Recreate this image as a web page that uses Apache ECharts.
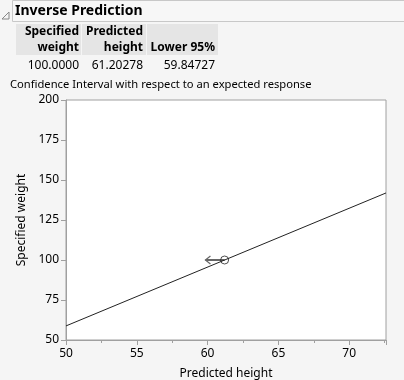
<!DOCTYPE html>
<html><head><meta charset="utf-8">
<script src="https://cdn.jsdelivr.net/npm/echarts@6/dist/echarts.min.js"></script>
<style>html,body{margin:0;padding:0;background:#f5f5f5}#c{width:404px;height:380px}</style>
</head><body><div id="c"></div>
<script>
// data
const title = 'Inverse Prediction';
const tableHeaders = [['Specified','weight'],['Predicted','height'],['','Lower 95%']];
const tableValues = ['100.0000','61.20278','59.84727'];
const subtitle = 'Confidence Interval with respect to an expected response';
const fitLine = [[50, 58.8], [72.6, 141.9]];
const predPoint = [61.20278, 100];
const lowerBound = [59.84727, 100];
const xTicks = [50, 55, 60, 65, 70];
const yTicks = [50, 75, 100, 125, 150, 175, 200];

const FONT = 'Noto Sans';
const chart = echarts.init(document.getElementById('c'), null, {renderer:'canvas'});

const graphics = [];
// title bar
graphics.push({type:'rect', shape:{x:12.5, y:0.5, width:400, height:21}, style:{fill:'#f7f7f7', stroke:'#c8c8c8', lineWidth:1}});
graphics.push({type:'polygon', shape:{points:[[2,19],[9,19],[9,12]]}, style:{fill:'none', stroke:'#888', lineWidth:1}});
graphics.push({type:'text', x:15, y:11, style:{text:title, font:'bold 14px "'+FONT+'"', fill:'#000', verticalAlign:'middle'}});
// table
const colRights = [79, 143, 215];
const colLefts = [16, 82, 147];
const colWidths = [65, 64, 71];
for (let i=0;i<3;i++){
  graphics.push({type:'rect', shape:{x:colLefts[i], y:24, width:colWidths[i], height:31}, style:{fill:'#e5e5e5'}});
  graphics.push({type:'text', x:colRights[i], y:32, style:{text:tableHeaders[i][0], font:'bold 12px "'+FONT+'"', fill:'#000', align:'right', verticalAlign:'middle'}});
  graphics.push({type:'text', x:colRights[i], y:48, style:{text:tableHeaders[i][1], font:'bold 12px "'+FONT+'"', fill:'#000', align:'right', verticalAlign:'middle'}});
  graphics.push({type:'text', x:colRights[i], y:66, style:{text:tableValues[i], font:'12px "'+FONT+'"', fill:'#000', align:'right', verticalAlign:'middle'}});
}
graphics.push({type:'text', x:10, y:85, style:{text:subtitle, font:'11.2px "'+FONT+'"', fill:'#000', verticalAlign:'middle'}});

chart.setOption({
  backgroundColor:'#f5f5f5',
  animation:false,
  textStyle:{fontFamily:FONT},
  grid:{left:66, top:100, width:320, height:240, outerBoundsMode:'none', containLabel:false, show:true, backgroundColor:'#ffffff', borderColor:'#a0a0a0', borderWidth:1},
  graphic: graphics,
  xAxis:{
    type:'value', min:50, max:72.6, interval:5,
    name:'Predicted height', nameLocation:'middle', nameGap:28,
    nameTextStyle:{fontSize:12, color:'#000', fontFamily:FONT},
    axisLine:{show:true, lineStyle:{color:'#a0a0a0'}},
    axisTick:{show:true, length:5, lineStyle:{color:'#a0a0a0'}},
    minorTick:{show:true, splitNumber:2, length:3, lineStyle:{color:'#a0a0a0'}},
    axisLabel:{color:'#000', fontSize:12, margin:8, showMaxLabel:false, fontFamily:FONT},
    splitLine:{show:false}
  },
  yAxis:{
    type:'value', min:50, max:200, interval:25,
    name:'Specified weight', nameLocation:'middle', nameGap:31,
    nameTextStyle:{fontSize:12, color:'#000', fontFamily:FONT},
    axisLine:{show:true, lineStyle:{color:'#a0a0a0'}},
    axisTick:{show:true, length:5, lineStyle:{color:'#a0a0a0'}},
    axisLabel:{color:'#000', fontSize:12, margin:7, fontFamily:FONT},
    splitLine:{show:false}
  },
  series:[
    {type:'line', data:fitLine, symbol:'none', lineStyle:{color:'#222', width:1}, silent:true},
    {type:'custom', data:[[lowerBound[0], lowerBound[1], predPoint[0], predPoint[1]]],
     renderItem:function(params, api){
       const a = api.coord([api.value(0), api.value(1)]);
       const b = api.coord([api.value(2), api.value(3)]);
       return {type:'group', children:[
         {type:'line', shape:{x1:a[0], y1:a[1], x2:b[0], y2:b[1]}, style:{stroke:'#666', lineWidth:2}},
         {type:'polyline', shape:{points:[[a[0]+5,a[1]-4],[a[0],a[1]],[a[0]+5,a[1]+4]]}, style:{stroke:'#666', lineWidth:1.2, fill:'none'}}
       ]};
     }},
    {type:'scatter', data:[predPoint], symbol:'circle', symbolSize:8, itemStyle:{color:'rgba(255,255,255,0)', borderColor:'#222', borderWidth:1}, z:5}
  ]
});
</script></body></html>
